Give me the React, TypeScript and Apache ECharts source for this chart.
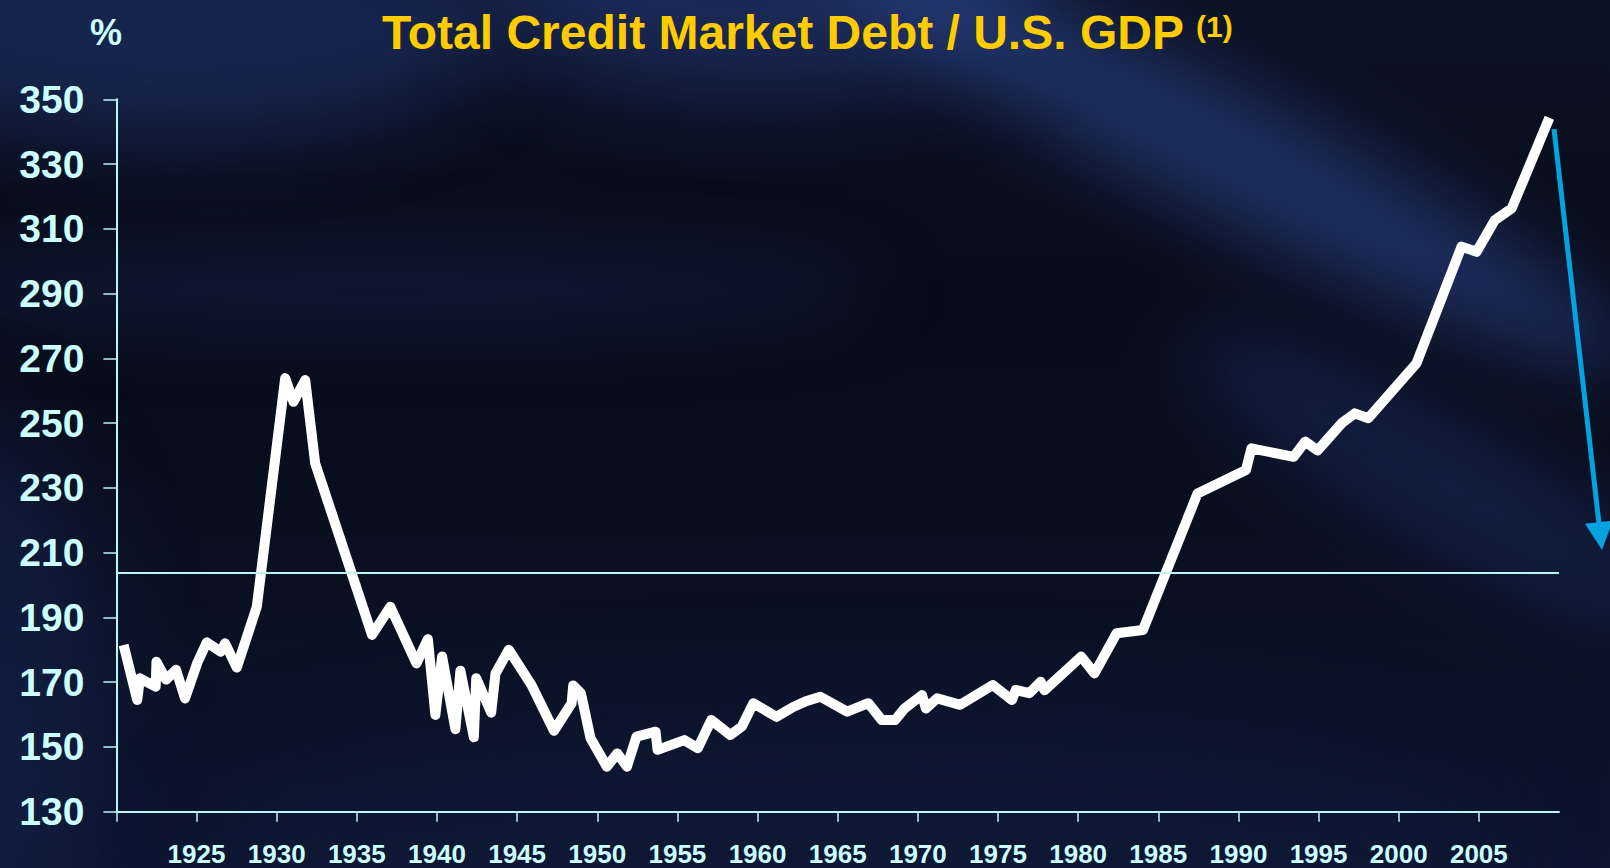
import React, { useEffect, useRef } from "react";
import * as echarts from "echarts";

// ---- data ----
const years = [
  1920.45, 1921.3, 1921.47, 1922.45, 1922.5, 1923.1, 1923.72, 1924.28, 1925.05, 1925.64,
  1926.5, 1926.78, 1927.51, 1928.76, 1930.53, 1931.05, 1931.78, 1932.4, 1935.95, 1937.09,
  1938.72, 1939.43, 1939.9, 1940.32, 1941.15, 1941.46, 1942.3, 1942.45, 1943.38, 1943.65,
  1944.48, 1945.9, 1947.3, 1948.4, 1948.5, 1948.98, 1949.58, 1950.6, 1951.25, 1951.85,
  1952.45, 1953.64, 1953.76, 1955.43, 1956.27, 1957.11, 1958.3, 1959.02, 1959.74, 1961.17,
  1962.25, 1962.97, 1963.92, 1965.59, 1966.91, 1967.75, 1968.58, 1969.17, 1970.26, 1970.5,
  1971.21, 1972.64, 1974.68, 1975.87, 1976.11, 1976.95, 1977.66, 1977.9, 1980.19, 1981.02,
  1982.4, 1984.04, 1987.45, 1990.47, 1990.81, 1993.45, 1994.17, 1994.94, 1996.45, 1997.26,
  1998.1, 2001.11, 2003.92, 2004.86, 2006.0, 2007.05, 2009.4,
];
const debtPct = [
  181.5, 164.5, 171.2, 168.6, 176.3, 170.8, 173.8, 165.0, 176.0, 182.3,
  179.4, 182.0, 174.5, 193.3, 263.9, 256.6, 263.3, 237.6, 184.6, 193.3,
  175.8, 183.3, 159.9, 177.9, 155.5, 173.5, 153.0, 171.2, 160.6, 172.7,
  180.0, 169.1, 155.0, 163.5, 169.0, 166.6, 152.7, 143.9, 148.0, 143.9,
  153.2, 154.7, 149.1, 152.1, 149.6, 158.3, 153.7, 156.3, 163.5, 159.3,
  162.4, 164.0, 165.5, 160.9, 163.5, 158.3, 158.3, 161.9, 166.0, 161.9,
  165.0, 163.0, 169.1, 164.5, 167.6, 166.6, 170.1, 167.5, 177.9, 172.7,
  185.1, 186.1, 228.3, 235.5, 242.2, 239.6, 244.3, 241.6, 250.0, 253.0,
  251.5, 268.5, 304.5, 302.9, 312.7, 316.3, 344.3,
];
const averageLevel = [203.9];
const xTickYears = [1920, 1925, 1930, 1935, 1940, 1945, 1950, 1955, 1960, 1965, 1970, 1975, 1980, 1985, 1990, 1995, 2000, 2005];
const xLabelYears = [1925, 1930, 1935, 1940, 1945, 1950, 1955, 1960, 1965, 1970, 1975, 1980, 1985, 1990, 1995, 2000, 2005];
const yRange = [130, 350];
const yStep = 20;
const titleText = "Total Credit Market Debt / U.S. GDP";
const footnoteMark = "(1)";
const unitText = "%";

const FONT = '"Liberation Sans", Arial, Helvetica, sans-serif';
const CYAN = "#CCFFFF";
const AXIS = "#BDF5F5";
const ARROW = "#05A2E0";

const blob = (
  left: number, top: number, w: number, h: number, rot: number, color: string, blur: number
): React.CSSProperties => ({
  position: "absolute",
  left,
  top,
  width: w,
  height: h,
  borderRadius: "50%",
  background: color,
  transform: `rotate(${rot}deg)`,
  filter: `blur(${blur}px)`,
});

export default function App() {
  const ref = useRef<HTMLDivElement>(null);

  useEffect(() => {
    if (!ref.current) return;
    const chart = echarts.init(ref.current, null, { renderer: "svg" });
    const data = years.map((y, i) => [y, debtPct[i]]);
    chart.setOption({
      animation: false,
      backgroundColor: "transparent",
      grid: { left: 116.4, right: 51, top: 99.3, bottom: 56.3, containLabel: false },
      xAxis: {
        type: "value",
        min: 1920,
        max: 2010,
        interval: 5,
        axisLine: { show: true, onZero: false, lineStyle: { color: AXIS, width: 2 } },
        axisTick: { show: true, length: 10, customValues: xTickYears, lineStyle: { color: AXIS, width: 1.5 } },
        axisLabel: {
          customValues: xLabelYears,
          formatter: (v: number) => String(Math.round(v)),
          margin: 30,
          color: CYAN,
          fontSize: 26,
          lineHeight: 24,
          fontWeight: "bold",
          fontFamily: FONT,
        },
        splitLine: { show: false },
      },
      yAxis: {
        type: "value",
        min: yRange[0],
        max: yRange[1],
        interval: yStep,
        axisLine: { show: true, lineStyle: { color: AXIS, width: 2 } },
        axisTick: { show: true, length: 13, lineStyle: { color: AXIS, width: 1.5 } },
        axisLabel: {
          margin: 32,
          color: CYAN,
          fontSize: 39,
          fontWeight: "bold",
          fontFamily: FONT,
        },
        splitLine: { show: false },
      },
      series: [
        {
          type: "line",
          data,
          symbol: "none",
          smooth: false,
          lineStyle: { color: "#FFFFFF", width: 10, cap: "butt", join: "round" },
          markLine: {
            silent: true,
            symbol: ["none", "none"],
            label: { show: false },
            lineStyle: { color: AXIS, width: 2, type: "solid" },
            data: averageLevel.map((v) => ({ yAxis: v })),
          },
          z: 3,
        },
      ],
      graphic: [
        {
          type: "text",
          x: 382,
          y: 32,
          style: {
            text: titleText,
            fill: "#FFCC00",
            fontSize: 48,
            fontWeight: "bold",
            fontFamily: FONT,
            align: "left",
            verticalAlign: "middle",
          },
        },
        {
          type: "text",
          x: 1196,
          y: 26,
          style: {
            text: footnoteMark,
            fill: "#FFCC00",
            fontSize: 30,
            fontWeight: "bold",
            fontFamily: FONT,
            align: "left",
            verticalAlign: "middle",
          },
        },
        {
          type: "text",
          x: 106,
          y: 32,
          style: {
            text: unitText,
            fill: CYAN,
            fontSize: 36,
            fontWeight: "bold",
            fontFamily: FONT,
            align: "center",
            verticalAlign: "middle",
          },
        },
        {
          type: "line",
          shape: { x1: 1554, y1: 129, x2: 1599.5, y2: 528 },
          style: { stroke: ARROW, lineWidth: 5 },
        },
        {
          type: "polygon",
          shape: { points: [[1602, 550], [1585, 523.8], [1612.8, 520.6]] },
          style: { fill: ARROW },
        },
      ],
    });
    return () => chart.dispose();
  }, []);

  return (
    <div
      style={{
        position: "fixed",
        left: 0,
        top: 0,
        width: 1610,
        height: 868,
        overflow: "hidden",
        background: "linear-gradient(180deg, #0B1224 0%, #080C1A 35%, #0A1022 70%, #0D1530 100%)",
      }}
    >
      <div style={blob(-150, -90, 650, 230, 0, "rgba(28,45,95,0.7)", 40)} />
      <div style={blob(480, -110, 560, 200, 0, "rgba(32,50,104,0.75)", 45)} />
      <div style={blob(780, 90, 900, 130, 27, "rgba(42,66,135,0.6)", 35)} />
      <div style={blob(1150, 420, 560, 110, 30, "rgba(30,50,105,0.5)", 40)} />
      <div style={blob(-120, 250, 1000, 80, 0, "rgba(24,38,80,0.5)", 35)} />
      <div style={blob(-200, 420, 300, 520, 0, "rgba(24,40,88,0.5)", 50)} />
      <div style={blob(200, 700, 1300, 300, 0, "rgba(16,26,56,0.5)", 50)} />
      <div ref={ref} style={{ position: "absolute", left: 0, top: 0, width: 1610, height: 868 }} />
    </div>
  );
}
